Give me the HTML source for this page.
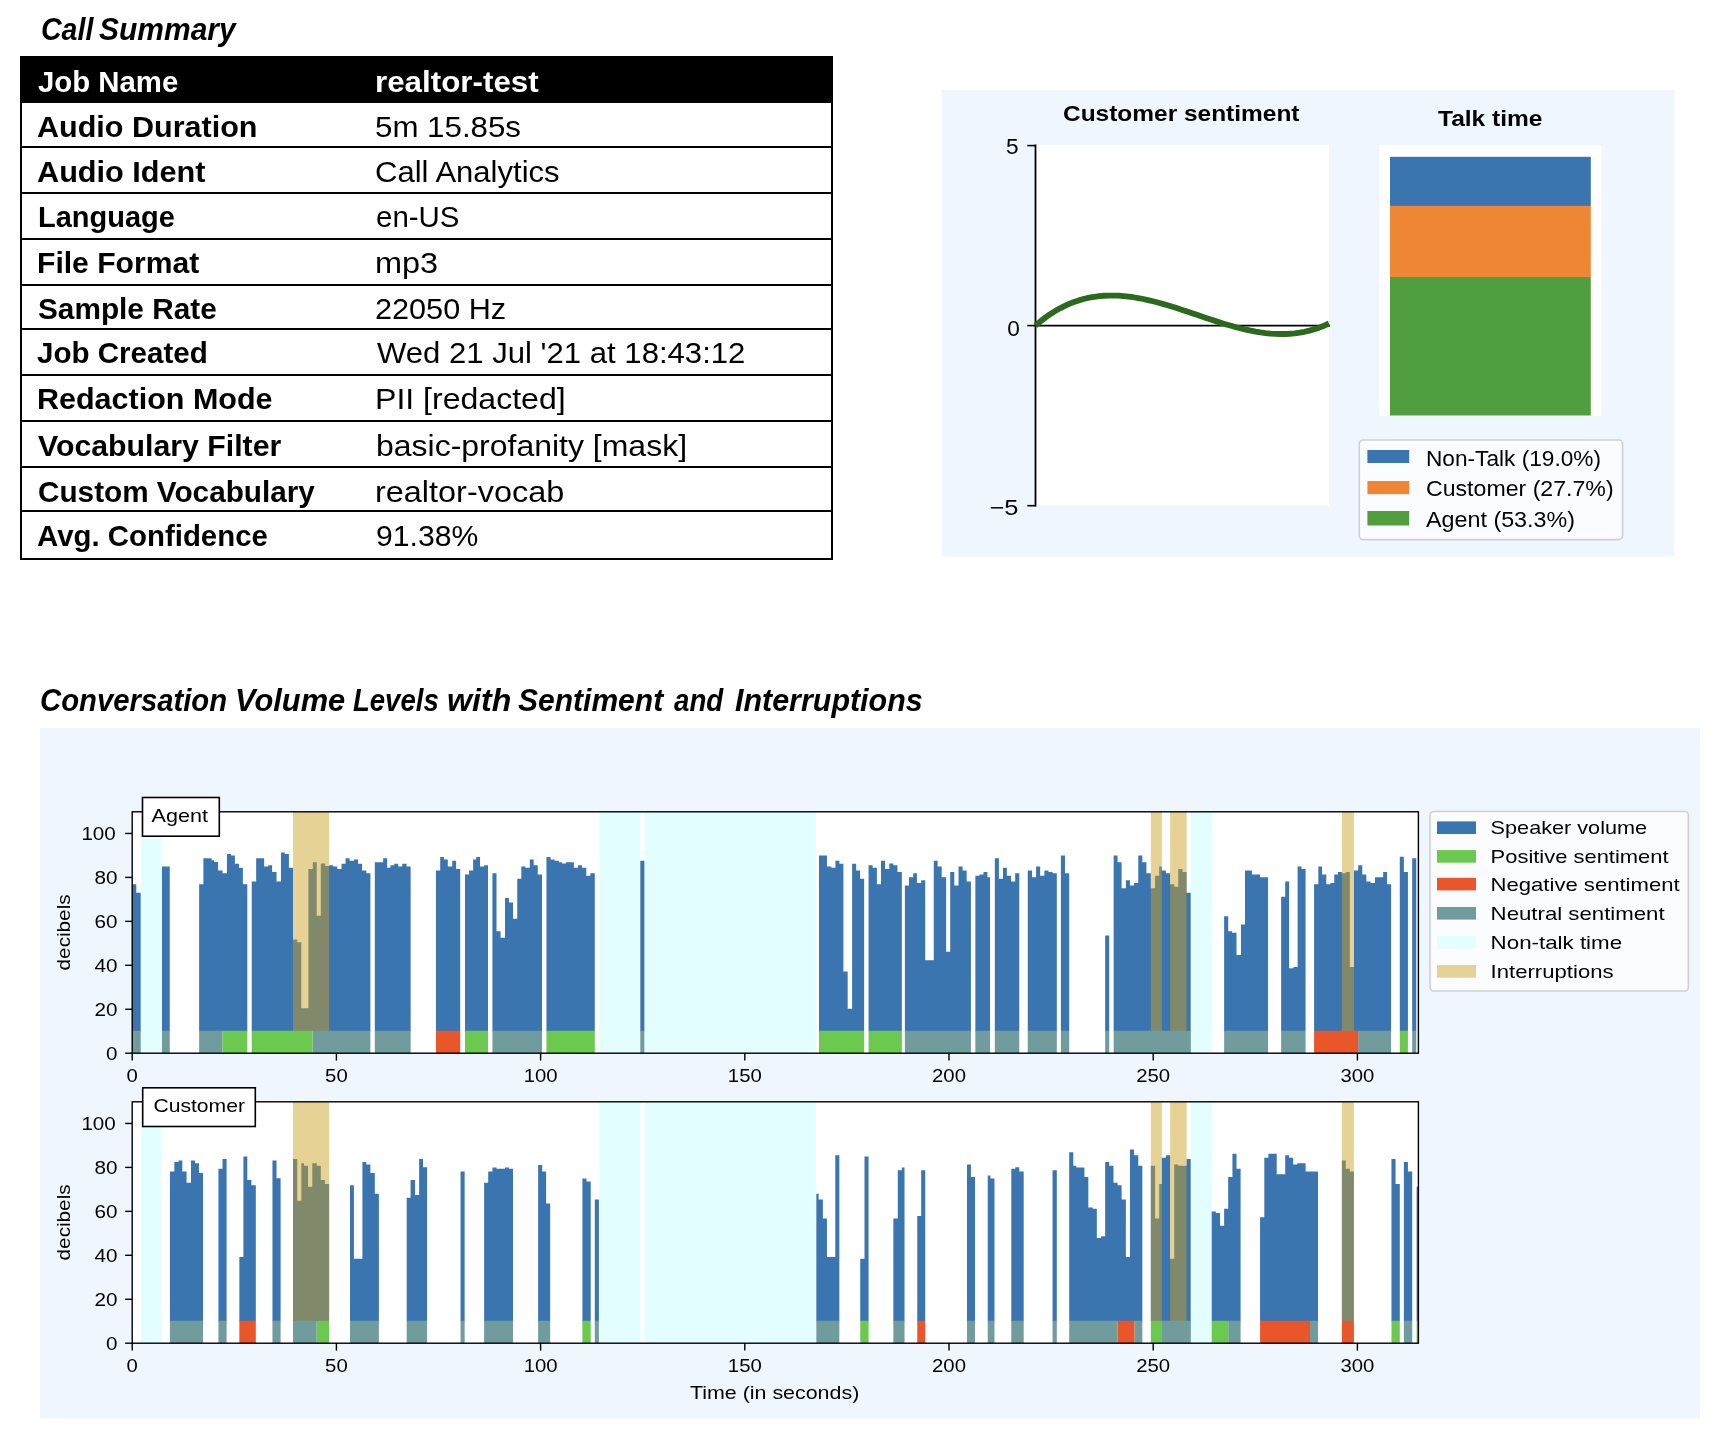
<!DOCTYPE html>
<html><head><meta charset="utf-8"><title>Call Summary</title>
<style>
html,body{margin:0;padding:0;background:#fff}
body{width:1716px;height:1440px;position:relative;overflow:hidden;font-family:"Liberation Sans",sans-serif;color:#000}
.abs{position:absolute}
h2.hd{margin:0;padding:0;font-size:32px;line-height:0}
.hw{position:absolute;font-style:italic;font-weight:bold;font-size:32px;line-height:32px;white-space:nowrap;transform-origin:0 0}
.tbl{position:absolute;left:20px;top:56px;width:813px;height:504px;box-sizing:border-box;border-left:2px solid #000;border-right:2px solid #000;border-bottom:2.5px solid #000}
.tbl>*{margin-left:-2px}
.hdrbg{position:absolute;left:0;top:0;width:813px;height:47.2px;background:#000}
.hl{position:absolute;left:0;width:813px;height:2px;background:#000}
.tbl span{position:absolute;font-size:30px;line-height:30px;white-space:nowrap;transform-origin:0 0}
.c1{font-weight:bold}
.c2.w{font-weight:bold}
.w{color:#fff}
svg,.tbl,h2.hd{will-change:transform}
</style></head><body>
<h2 class="hd">
<span class="hw" style="left:40.63px;top:12.6px;transform:scaleX(0.8923)">Call</span>
<span class="hw" style="left:98.79px;top:12.6px;transform:scaleX(0.9375)">Summary</span>
</h2>
<h2 class="hd">
<span class="hw" style="left:40.01px;top:684.2px;transform:scaleX(0.9152)">Conversation</span>
<span class="hw" style="left:234.87px;top:684.2px;transform:scaleX(0.9639)">Volume</span>
<span class="hw" style="left:353.05px;top:684.2px;transform:scaleX(0.8602)">Levels</span>
<span class="hw" style="left:446.68px;top:684.2px;transform:scaleX(1.0051)">with</span>
<span class="hw" style="left:518.19px;top:684.2px;transform:scaleX(0.9383)">Sentiment</span>
<span class="hw" style="left:674px;top:684.2px;transform:scaleX(0.8654)">and</span>
<span class="hw" style="left:734.77px;top:684.2px;transform:scaleX(0.9511)">Interruptions</span>
</h2>
<div class="tbl">
<div class="hdrbg"></div>
<div class="hl" style="top:89.6px"></div>
<div class="hl" style="top:136px"></div>
<div class="hl" style="top:181.8px"></div>
<div class="hl" style="top:228px"></div>
<div class="hl" style="top:272.1px"></div>
<div class="hl" style="top:317.9px"></div>
<div class="hl" style="top:364.1px"></div>
<div class="hl" style="top:410.1px"></div>
<div class="hl" style="top:454.1px"></div>
<span class="c1 w" id="t0_0" style="left:17.93px;top:10.5px;transform:scaleX(0.9781)">Job Name</span>
<span class="c2 w" id="t0_1" style="left:355.42px;top:10.5px;transform:scaleX(1.0444)">realtor-test</span>
<span class="c1" id="t1_0" style="left:17.49px;top:56.1px;transform:scaleX(1.0177)">Audio Duration</span>
<span class="c2" id="t1_1" style="left:354.83px;top:56.1px;transform:scaleX(1.0421)">5m 15.85s</span>
<span class="c1" id="t2_0" style="left:17.49px;top:100.5px;transform:scaleX(1.0214)">Audio Ident</span>
<span class="c2" id="t2_1" style="left:354.84px;top:100.5px;transform:scaleX(1.0347)">Call Analytics</span>
<span class="c1" id="t3_0" style="left:17.56px;top:145.9px;transform:scaleX(0.9655)">Language</span>
<span class="c2" id="t3_1" style="left:355.93px;top:145.9px;transform:scaleX(0.9818)">en-US</span>
<span class="c1" id="t4_0" style="left:17.48px;top:192.35px;transform:scaleX(1.0031)">File Format</span>
<span class="c2" id="t4_1" style="left:355.33px;top:192.35px;transform:scaleX(1.0819)">mp3</span>
<span class="c1" id="t5_0" style="left:17.91px;top:238.35px;transform:scaleX(0.9926)">Sample Rate</span>
<span class="c2" id="t5_1" style="left:355.46px;top:238.35px;transform:scaleX(1.0208)">22050 Hz</span>
<span class="c1" id="t6_0" style="left:16.51px;top:282.35px;transform:scaleX(0.9853)">Job Created</span>
<span class="c2" id="t6_1" style="left:357.08px;top:282.35px;transform:scaleX(1.0364)">Wed 21 Jul '21 at 18:43:12</span>
<span class="c1" id="t7_0" style="left:17.47px;top:328.2px;transform:scaleX(1.0166)">Redaction Mode</span>
<span class="c2" id="t7_1" style="left:355.36px;top:328.2px;transform:scaleX(1.0683)">PII [redacted]</span>
<span class="c1" id="t8_0" style="left:18.49px;top:374.5px;transform:scaleX(1.0088)">Vocabulary Filter</span>
<span class="c2" id="t8_1" style="left:355.81px;top:374.5px;transform:scaleX(1.0660)">basic-profanity [mask]</span>
<span class="c1" id="t9_0" style="left:17.91px;top:420.5px;transform:scaleX(0.9904)">Custom Vocabulary</span>
<span class="c2" id="t9_1" style="left:355.34px;top:420.5px;transform:scaleX(1.0807)">realtor-vocab</span>
<span class="c1" id="t10_0" style="left:16.51px;top:464.5px;transform:scaleX(0.9799)">Avg. Confidence</span>
<span class="c2" id="t10_1" style="left:355.9px;top:464.5px;transform:scaleX(1.0052)">91.38%</span>
</div>
<svg class="abs" style="left:0;top:0" width="1716" height="600" viewBox="0 0 1716 600">
<style>.t{font-family:"Liberation Sans",sans-serif;font-size:21.4px;fill:#000}.tb{font-family:"Liberation Sans",sans-serif;font-size:21.8px;font-weight:bold;fill:#000}</style>
<rect x="942" y="90" width="732" height="466.5" fill="#f0f6fe"/>
<rect x="1035.5" y="145" width="293.5" height="360.5" fill="#fff"/>
<path d="M1035.5 144.6V506.4" stroke="#000" stroke-width="1.8"/>
<path d="M1027.3 145.6H1035.5" stroke="#000" stroke-width="1.6"/>
<text x="1018.6" y="153.9" text-anchor="end" class="t" textLength="12.6" lengthAdjust="spacingAndGlyphs">5</text>
<path d="M1027.3 325.6H1035.5" stroke="#000" stroke-width="1.6"/>
<text x="1019.9" y="335.5" text-anchor="end" class="t" textLength="12.6" lengthAdjust="spacingAndGlyphs">0</text>
<path d="M1027.3 505.7H1035.5" stroke="#000" stroke-width="1.6"/>
<text x="1018.4" y="515.3" text-anchor="end" class="t" textLength="29" lengthAdjust="spacingAndGlyphs">−5</text>
<path d="M1035.5 325.6H1330" stroke="#000" stroke-width="1.6"/>
<path d="M1035.5 325.5 L1040.39 321.38 L1045.28 317.61 L1050.17 314.19 L1055.07 311.09 L1059.96 308.3 L1064.85 305.83 L1069.74 303.65 L1074.63 301.76 L1079.53 300.13 L1084.42 298.78 L1089.31 297.67 L1094.2 296.81 L1099.09 296.17 L1103.98 295.75 L1108.88 295.55 L1113.77 295.53 L1118.66 295.71 L1123.55 296.06 L1128.44 296.57 L1133.33 297.24 L1138.22 298.05 L1143.12 298.99 L1148.01 300.05 L1152.9 301.22 L1157.79 302.49 L1162.68 303.84 L1167.58 305.27 L1172.47 306.77 L1177.36 308.32 L1182.25 309.92 L1187.14 311.54 L1192.03 313.19 L1196.92 314.85 L1201.82 316.51 L1206.71 318.15 L1211.6 319.78 L1216.49 321.37 L1221.38 322.92 L1226.28 324.41 L1231.17 325.83 L1236.06 327.18 L1240.95 328.44 L1245.84 329.6 L1250.73 330.65 L1255.62 331.58 L1260.52 332.37 L1265.41 333.03 L1270.3 333.53 L1275.19 333.86 L1280.08 334.02 L1284.97 333.99 L1289.87 333.76 L1294.76 333.33 L1299.65 332.67 L1304.54 331.78 L1309.43 330.65 L1314.33 329.27 L1319.22 327.63 L1324.11 325.71 L1329 323.5" fill="none" stroke="#2b6a1c" stroke-width="5.8" stroke-linejoin="round"/>
<text x="1063" y="121.3" class="tb" textLength="236.5" lengthAdjust="spacingAndGlyphs">Customer sentiment</text>
<rect x="1379.5" y="145" width="221.8" height="270.5" fill="#fff"/>
<rect x="1390" y="156.8" width="200.8" height="49.2" fill="#3b75af"/>
<rect x="1390" y="205.8" width="200.8" height="71.4" fill="#ef8636"/>
<rect x="1390" y="277" width="200.8" height="138.5" fill="#519e3e"/>
<text x="1438" y="125.8" class="tb" textLength="104.5" lengthAdjust="spacingAndGlyphs">Talk time</text>
<rect x="1359.3" y="440" width="263.3" height="99.6" rx="4" fill="#fbfcff" stroke="#d0d0d0" stroke-width="1.6"/>
<rect x="1367.4" y="450" width="41.8" height="13" fill="#3b75af"/>
<text x="1426" y="465.6" class="t" textLength="175" lengthAdjust="spacingAndGlyphs">Non-Talk (19.0%)</text>
<rect x="1367.4" y="481" width="41.8" height="13.2" fill="#ef8636"/>
<text x="1426" y="496.2" class="t" textLength="187.6" lengthAdjust="spacingAndGlyphs">Customer (27.7%)</text>
<rect x="1367.4" y="511" width="41.8" height="14.5" fill="#519e3e"/>
<text x="1426" y="526.5" class="t" textLength="149" lengthAdjust="spacingAndGlyphs">Agent (53.3%)</text>
</svg>
<svg class="abs" style="left:0;top:0" width="1716" height="1440" viewBox="0 0 1716 1440">
<style>.u{font-family:"Liberation Sans",sans-serif;font-size:19px;fill:#000}</style>
<rect x="40" y="728" width="1660" height="690.5" fill="#f0f6fe"/>
<rect x="132.2" y="811.8" width="1286.2" height="241.2" fill="#fff"/>
<rect x="141" y="811.8" width="20.4" height="241.2" fill="#e3feff"/>
<rect x="599.23" y="811.8" width="41.08" height="241.2" fill="#e3feff"/>
<rect x="644.74" y="811.8" width="171.06" height="241.2" fill="#e3feff"/>
<rect x="1190.69" y="811.8" width="21.07" height="241.2" fill="#e3feff"/>
<path fill="#3b75af" d="M132.2 1031.29H136.27V884.34H132.2ZM136.27 1031.29H140.7V892.66H136.27ZM161.95 1031.29H169.74V866.45H161.95ZM199.14 1031.29H203.39V884.34H199.14ZM203.39 1031.29H211.53V858.13H203.39ZM211.53 1031.29H214.01V860.25H211.53ZM214.01 1031.29H218.09V862.02H214.01ZM218.09 1031.29H222.51V870.52H218.09ZM222.51 1031.29H226.94V873.18H222.51ZM226.94 1031.29H231.01V854.05H226.94ZM231.01 1031.29H234.91V855.47H231.01ZM234.91 1031.29H238.98V863.79H234.91ZM238.98 1031.29H242.88V867.87H238.98ZM242.88 1031.29H247.31V884.34H242.88ZM251.73 1031.29H256.16V881.5H251.73ZM256.16 1031.29H264.13V858.13H256.16ZM264.13 1031.29H268.2V866.45H264.13ZM268.2 1031.29H272.1V865.21H268.2ZM272.1 1031.29H276.53V871.94H272.1ZM276.53 1031.29H280.95V881.5H276.53ZM280.95 1031.29H284.85V852.46H280.95ZM284.85 1031.29H288.92V854.05H284.85ZM288.92 1031.29H293V867.87H288.92ZM293 1031.29H297.25V939.59H293ZM297.25 1031.29H301.32V942.24H297.25ZM301.32 1031.29H308.4V1008.3H301.32ZM308.4 1031.29H312.83V869.11H308.4ZM312.83 1031.29H316.73V862.2H312.83ZM316.73 1031.29H320.8V915.68H316.73ZM320.8 1031.29H325.23V863.44H320.8ZM325.23 1031.29H329.12V866.1H325.23ZM329.12 1031.29H333.2V865.21H329.12ZM333.2 1031.29H337.27V866.45H333.2ZM337.27 1031.29H341.52V869.11H337.27ZM341.52 1031.29H345.59V863.79H341.52ZM345.59 1031.29H349.66V858.13H345.59ZM349.66 1031.29H353.91V860.78H349.66ZM353.91 1031.29H357.99V859.54H353.91ZM357.99 1031.29H362.06V863.79H357.99ZM362.06 1031.29H366.31V870.52H362.06ZM366.31 1031.29H370.38V873.18H366.31ZM374.81 1031.29H383.13V862.2H374.81ZM383.13 1031.29H387.21V858.13H383.13ZM387.21 1031.29H390.4V867.87H387.21ZM390.4 1031.29H394.29V865.21H390.4ZM394.29 1031.29H398.19V863.79H394.29ZM398.19 1031.29H402.26V866.45H398.19ZM402.26 1031.29H406.33V863.79H402.26ZM406.33 1031.29H410.58V866.45H406.33ZM400 1031.29H402.66V866.45H400ZM402.66 1031.29H406.55V863.79H402.66ZM406.55 1031.29H410.63V866.45H406.55ZM435.95 1031.29H440.2V870.52H435.95ZM440.2 1031.29H443.92V856.89H440.2ZM443.92 1031.29H447.81V859.54H443.92ZM447.81 1031.29H452.24V866.45H447.81ZM452.24 1031.29H456.14V860.78H452.24ZM456.14 1031.29H460.21V869.11H456.14ZM464.99 1031.29H469.07V874.6H464.99ZM469.07 1031.29H473.14V870.52H469.07ZM473.14 1031.29H476.15V859.54H473.14ZM476.15 1031.29H480.04V856.89H476.15ZM480.04 1031.29H484.12V866.45H480.04ZM484.12 1031.29H488.01V865.21H484.12ZM492.44 1031.29H496.51V873.18H492.44ZM496.51 1031.29H500.59V931.27H496.51ZM500.59 1031.29H505.01V937.82H500.59ZM505.01 1031.29H508.91V897.97H505.01ZM508.91 1031.29H512.98V902.4H508.91ZM512.98 1031.29H517.23V918.69H512.98ZM517.23 1031.29H521.31V878.85H517.23ZM521.31 1031.29H525.38V866.45H521.31ZM525.38 1031.29H529.81V867.87H525.38ZM529.81 1031.29H533.7V859.54H529.81ZM533.7 1031.29H537.78V865.21H533.7ZM537.78 1031.29H542.03V874.6H537.78ZM546.45 1031.29H550.53V856.89H546.45ZM550.53 1031.29H554.6V859.54H550.53ZM554.6 1031.29H558.85V860.78H554.6ZM558.85 1031.29H562.04V862.2H558.85ZM562.04 1031.29H565.93V863.44H562.04ZM565.93 1031.29H573.9V862.2H565.93ZM573.9 1031.29H577.98V867.87H573.9ZM577.98 1031.29H582.05V865.21H577.98ZM582.05 1031.29H586.3V867.87H582.05ZM586.3 1031.29H590.37V875.84H586.3ZM590.37 1031.29H594.8V873.18H590.37ZM640.31 1031.29H644.38V860.78H640.31ZM818.98 1031.29H826.95V855.47H818.98ZM826.95 1031.29H831.38V866.45H826.95ZM831.38 1031.29H835.45V867.87H831.38ZM835.45 1031.29H839.35V860.78H835.45ZM839.35 1031.29H843.42V863.79H839.35ZM843.42 1031.29H847.67V971.46H843.42ZM847.67 1031.29H852.1V1008.65H847.67ZM852.1 1031.29H856.17V863.79H852.1ZM856.17 1031.29H860.07V870.52H856.17ZM860.07 1031.29H864.14V878.85H860.07ZM868.57 1031.29H872.64V865.21H868.57ZM872.64 1031.29H876.89V867.87H872.64ZM876.89 1031.29H880.97V884.34H876.89ZM880.97 1031.29H885.04V860.78H880.97ZM885.04 1031.29H889.29V869.11H885.04ZM889.29 1031.29H893.36V863.44H889.29ZM893.36 1031.29H897.44V865.21H893.36ZM897.44 1031.29H901.86V871.94H897.44ZM904.87 1031.29H908.95V885.58H904.87ZM908.95 1031.29H913.2V877.25H908.95ZM913.2 1031.29H916.92V873.18H913.2ZM916.92 1031.29H921.17V882.92H916.92ZM921.17 1031.29H925.24V880.26H921.17ZM925.24 1031.29H933.74V960.31H925.24ZM933.74 1031.29H937.63V860.78H933.74ZM937.63 1031.29H941.71V866.45H937.63ZM941.71 1031.29H945.96V877.25H941.71ZM945.96 1031.29H950.39V951.63H945.96ZM950.39 1031.29H954.1V871.94H950.39ZM954.1 1031.29H958V885.58H954.1ZM944 1031.29H946.13V877.25H944ZM946.13 1031.29H950.2V951.63H946.13ZM950.2 1031.29H954.27V871.94H950.2ZM954.27 1031.29H958.52V885.58H954.27ZM958.52 1031.29H962.59V866.45H958.52ZM962.59 1031.29H966.67V870.52H962.59ZM966.67 1031.29H970.92V881.5H966.67ZM975.34 1031.29H979.42V875.84H975.34ZM979.42 1031.29H983.49V874.6H979.42ZM983.49 1031.29H987.39V871.94H983.49ZM987.39 1031.29H990.04V877.25H987.39ZM994.82 1031.29H998.9V858.13H994.82ZM998.9 1031.29H1002.97V878.85H998.9ZM1002.97 1031.29H1006.87V867.87H1002.97ZM1006.87 1031.29H1010.94V875.84H1006.87ZM1010.94 1031.29H1015.19V881.5H1010.94ZM1015.19 1031.29H1019.26V873.18H1015.19ZM1027.76 1031.29H1032.01V870.52H1027.76ZM1032.01 1031.29H1036.09V877.25H1032.01ZM1036.09 1031.29H1040.16V866.45H1036.09ZM1040.16 1031.29H1044.41V875.84H1040.16ZM1044.41 1031.29H1048.48V870.52H1044.41ZM1048.48 1031.29H1052.56V871.94H1048.48ZM1052.56 1031.29H1056.81V873.18H1052.56ZM1060.88 1031.29H1064.95V855.47H1060.88ZM1064.95 1031.29H1069.2V873.18H1064.95ZM1105.15 1031.29H1109.22V935.52H1105.15ZM1113.65 1031.29H1117.55V855.47H1113.65ZM1117.55 1031.29H1121.62V862.2H1117.55ZM1121.62 1031.29H1125.87V888.23H1121.62ZM1125.87 1031.29H1129.94V880.26H1125.87ZM1129.94 1031.29H1134.02V885.58H1129.94ZM1134.02 1031.29H1138.27V882.92H1134.02ZM1138.27 1031.29H1142.34V855.47H1138.27ZM1142.34 1031.29H1146.41V862.2H1142.34ZM1146.41 1031.29H1150.84V873.18H1146.41ZM1150.84 1031.29H1155.09V888.23H1150.84ZM1155.09 1031.29H1159.16V875.84H1155.09ZM1159.16 1031.29H1161.82V866.45H1159.16ZM1161.82 1031.29H1165.89V870.52H1161.82ZM1165.89 1031.29H1170.14V873.18H1165.89ZM1170.14 1031.29H1174.22V884.34H1170.14ZM1174.22 1031.29H1178.29V886.82H1174.22ZM1178.29 1031.29H1182.54V869.11H1178.29ZM1182.54 1031.29H1186.61V871.94H1182.54ZM1186.61 1031.29H1190.69V892.66H1186.61ZM1224.33 1031.29H1228.23V916.21H1224.33ZM1228.23 1031.29H1230V931.27H1228.23ZM1224.12 1031.29H1228.01V916.21H1224.12ZM1228.01 1031.29H1232.09V931.27H1228.01ZM1232.09 1031.29H1236.51V932.86H1232.09ZM1236.51 1031.29H1240.94V955H1236.51ZM1240.94 1031.29H1245.01V924.54H1240.94ZM1245.01 1031.29H1251.92V870.52H1245.01ZM1251.92 1031.29H1260.07V874.6H1251.92ZM1260.07 1031.29H1268.04V877.25H1260.07ZM1281.14 1031.29H1285.21V896.73H1281.14ZM1285.21 1031.29H1289.11V881.5H1285.21ZM1289.11 1031.29H1293.54V968.28H1289.11ZM1293.54 1031.29H1297.61V967.04H1293.54ZM1297.61 1031.29H1301.51V866.45H1297.61ZM1301.51 1031.29H1305.58V869.11H1301.51ZM1314.08 1031.29H1318.33V884.34H1314.08ZM1318.33 1031.29H1322.05V866.45H1318.33ZM1322.05 1031.29H1326.3V874.6H1322.05ZM1326.3 1031.29H1330.37V884.34H1326.3ZM1330.37 1031.29H1334.27V882.92H1330.37ZM1334.27 1031.29H1337.99V874.6H1334.27ZM1337.99 1031.29H1341.88V871.94H1337.99ZM1341.88 1031.29H1345.78V873.18H1341.88ZM1345.78 1031.29H1349.85V871.94H1345.78ZM1349.85 1031.29H1353.92V967.04H1349.85ZM1353.92 1031.29H1358.17V870.52H1353.92ZM1358.17 1031.29H1362.25V865.21H1358.17ZM1362.25 1031.29H1366.32V874.6H1362.25ZM1366.32 1031.29H1370.57V881.5H1366.32ZM1370.57 1031.29H1375V882.92H1370.57ZM1375 1031.29H1383.14V877.25H1375ZM1383.14 1031.29H1387.04V871.94H1383.14ZM1387.04 1031.29H1391.11V884.34H1387.04ZM1399.79 1031.29H1403.86V856.71H1399.79ZM1403.86 1031.29H1407.94V871.94H1403.86ZM1412.19 1031.29H1416.26V858.13H1412.19Z"/>
<path fill="#709c9e" d="M132.2 1052.93H140.7V1030.79H132.2ZM161.95 1052.93H169.74V1030.79H161.95ZM199.14 1052.93H222.51V1030.79H199.14ZM312.48 1052.93H370.38V1030.79H312.48ZM374.81 1052.93H410.58V1030.79H374.81ZM400 1052.93H410.63V1030.79H400ZM492.44 1052.93H542.03V1030.79H492.44ZM640.31 1052.93H644.38V1030.79H640.31ZM904.87 1052.93H958V1030.79H904.87ZM944 1052.93H970.92V1030.79H944ZM975.34 1052.93H990.04V1030.79H975.34ZM994.82 1052.93H1019.26V1030.79H994.82ZM1027.76 1052.93H1056.81V1030.79H1027.76ZM1060.88 1052.93H1069.2V1030.79H1060.88ZM1105.15 1052.93H1109.22V1030.79H1105.15ZM1113.65 1052.93H1190.69V1030.79H1113.65ZM1224.33 1052.93H1230V1030.79H1224.33ZM1140 1052.93H1190.82V1030.79H1140ZM1224.12 1052.93H1268.04V1030.79H1224.12ZM1281.14 1052.93H1305.58V1030.79H1281.14ZM1358.17 1052.93H1391.11V1030.79H1358.17ZM1412.19 1052.93H1416.26V1030.79H1412.19Z"/>
<path fill="#6cc94f" d="M222.51 1052.93H247.31V1030.79H222.51ZM251.73 1052.93H312.48V1030.79H251.73ZM464.99 1052.93H488.01V1030.79H464.99ZM546.45 1052.93H594.8V1030.79H546.45ZM818.98 1052.93H864.14V1030.79H818.98ZM868.57 1052.93H901.86V1030.79H868.57ZM1399.79 1052.93H1407.94V1030.79H1399.79Z"/>
<path fill="#e8562a" d="M435.95 1052.93H460.21V1030.79H435.95ZM1314.08 1052.93H1358.17V1030.79H1314.08Z"/>
<rect x="293" y="811.8" width="36.13" height="219.06" fill="#cda122" fill-opacity="0.48"/>
<rect x="1150.84" y="811.8" width="10.98" height="219.06" fill="#cda122" fill-opacity="0.48"/>
<rect x="1170.14" y="811.8" width="16.47" height="219.06" fill="#cda122" fill-opacity="0.48"/>
<rect x="1341.88" y="811.8" width="12.04" height="219.06" fill="#cda122" fill-opacity="0.48"/>
<rect x="132.2" y="811.8" width="1286.2" height="241.4" fill="none" stroke="#000" stroke-width="1.4"/>
<path d="M125.2 1053.2H132.2" stroke="#000" stroke-width="1.4"/>
<text x="117.4" y="1059.6" text-anchor="end" class="u" textLength="11.5" lengthAdjust="spacingAndGlyphs">0</text>
<path d="M125.2 1009.25H132.2" stroke="#000" stroke-width="1.4"/>
<text x="117.4" y="1015.65" text-anchor="end" class="u" textLength="23" lengthAdjust="spacingAndGlyphs">20</text>
<path d="M125.2 965.3H132.2" stroke="#000" stroke-width="1.4"/>
<text x="117.4" y="971.7" text-anchor="end" class="u" textLength="23" lengthAdjust="spacingAndGlyphs">40</text>
<path d="M125.2 921.35H132.2" stroke="#000" stroke-width="1.4"/>
<text x="117.4" y="927.75" text-anchor="end" class="u" textLength="23" lengthAdjust="spacingAndGlyphs">60</text>
<path d="M125.2 877.4H132.2" stroke="#000" stroke-width="1.4"/>
<text x="117.4" y="883.8" text-anchor="end" class="u" textLength="23" lengthAdjust="spacingAndGlyphs">80</text>
<path d="M125.2 833.45H132.2" stroke="#000" stroke-width="1.4"/>
<text x="115.8" y="839.85" text-anchor="end" class="u" textLength="34.4" lengthAdjust="spacingAndGlyphs">100</text>
<path d="M132.2 1053V1060.6" stroke="#000" stroke-width="1.4"/>
<text x="132.2" y="1081.6" text-anchor="middle" class="u" textLength="11.3" lengthAdjust="spacingAndGlyphs">0</text>
<path d="M336.4 1053V1060.6" stroke="#000" stroke-width="1.4"/>
<text x="336.4" y="1081.6" text-anchor="middle" class="u" textLength="22.6" lengthAdjust="spacingAndGlyphs">50</text>
<path d="M540.6 1053V1060.6" stroke="#000" stroke-width="1.4"/>
<text x="540.6" y="1081.6" text-anchor="middle" class="u" textLength="33.9" lengthAdjust="spacingAndGlyphs">100</text>
<path d="M744.8 1053V1060.6" stroke="#000" stroke-width="1.4"/>
<text x="744.8" y="1081.6" text-anchor="middle" class="u" textLength="33.9" lengthAdjust="spacingAndGlyphs">150</text>
<path d="M949 1053V1060.6" stroke="#000" stroke-width="1.4"/>
<text x="949" y="1081.6" text-anchor="middle" class="u" textLength="33.9" lengthAdjust="spacingAndGlyphs">200</text>
<path d="M1153.2 1053V1060.6" stroke="#000" stroke-width="1.4"/>
<text x="1153.2" y="1081.6" text-anchor="middle" class="u" textLength="33.9" lengthAdjust="spacingAndGlyphs">250</text>
<path d="M1357.4 1053V1060.6" stroke="#000" stroke-width="1.4"/>
<text x="1357.4" y="1081.6" text-anchor="middle" class="u" textLength="33.9" lengthAdjust="spacingAndGlyphs">300</text>
<text transform="translate(69.5 932.4) rotate(-90)" text-anchor="middle" class="u" textLength="76" lengthAdjust="spacingAndGlyphs">decibels</text>
<rect x="142.5" y="797.5" width="76.8" height="38.7" fill="#fff" stroke="#000" stroke-width="1.6"/>
<text x="151.6" y="822" class="u" textLength="56.3" lengthAdjust="spacingAndGlyphs">Agent</text>
<rect x="132.2" y="1101.8" width="1286.2" height="241.2" fill="#fff"/>
<rect x="141" y="1101.8" width="20.4" height="241.2" fill="#e3feff"/>
<rect x="599.23" y="1101.8" width="41.08" height="241.2" fill="#e3feff"/>
<rect x="644.74" y="1101.8" width="171.06" height="241.2" fill="#e3feff"/>
<rect x="1190.69" y="1101.8" width="21.07" height="241.2" fill="#e3feff"/>
<path fill="#3b75af" d="M169.92 1321.29H174.35V1171.5H169.92ZM174.35 1321.29H178.6V1161.94H174.35ZM178.6 1321.29H182.31V1160.52H178.6ZM182.31 1321.29H186.56V1171.5H182.31ZM186.56 1321.29H190.99V1182.66H186.56ZM190.99 1321.29H195.07V1160.52H190.99ZM195.07 1321.29H198.96V1163.18H195.07ZM198.96 1321.29H203.03V1172.92H198.96ZM218.44 1321.29H222.51V1168.85H218.44ZM222.51 1321.29H226.59V1159.11H222.51ZM239.34 1321.29H243.41V1257.04H239.34ZM243.41 1321.29H247.31V1156.45H243.41ZM247.31 1321.29H251.38V1180H247.31ZM251.38 1321.29H255.81V1185.32H251.38ZM272.45 1321.29H276.53V1160.52H272.45ZM276.53 1321.29H280.6V1178.23H276.53ZM293 1321.29H297.25V1159.11H293ZM297.25 1321.29H301.32V1200.72H297.25ZM301.32 1321.29H303.98V1163.18H301.32ZM303.98 1321.29H308.05V1165.84H303.98ZM308.05 1321.29H312.3V1186.73H308.05ZM312.3 1321.29H316.73V1163.18H312.3ZM316.73 1321.29H320.8V1165.84H316.73ZM320.8 1321.29H324.87V1180H320.8ZM324.87 1321.29H329.12V1184.08H324.87ZM350.02 1321.29H353.91V1185.32H350.02ZM353.91 1321.29H362.41V1258.81H353.91ZM362.41 1321.29H366.31V1161.94H362.41ZM366.31 1321.29H370.38V1164.6H366.31ZM370.38 1321.29H374.81V1172.92H370.38ZM374.81 1321.29H378.88V1193.82H374.81ZM406.69 1321.29H410.58V1197.71H406.69ZM410.58 1321.29H412V1180H410.58ZM406.73 1321.29H410.98V1197.71H406.73ZM410.98 1321.29H415.05V1180H410.98ZM415.05 1321.29H419.13V1195.06H415.05ZM419.13 1321.29H423.02V1159.11H419.13ZM423.02 1321.29H427.09V1167.25H423.02ZM460.56 1321.29H464.64V1171.5H460.56ZM484.12 1321.29H488.19V1182.66H484.12ZM488.19 1321.29H492.44V1171.5H488.19ZM492.44 1321.29H496.51V1167.61H492.44ZM496.51 1321.29H505.01V1168.85H496.51ZM505.01 1321.29H508.91V1167.61H505.01ZM508.91 1321.29H512.98V1168.85H508.91ZM538.13 1321.29H542.2V1164.95H538.13ZM542.2 1321.29H546.1V1171.5H542.2ZM546.1 1321.29H550.17V1203.38H546.1ZM582.4 1321.29H586.48V1178.59H582.4ZM586.48 1321.29H590.73V1181.42H586.48ZM594.8 1321.29H598.87V1199.48H594.8ZM816.33 1321.29H818.63V1193.82H816.33ZM818.63 1321.29H822.88V1199.48H818.63ZM822.88 1321.29H826.95V1218.61H822.88ZM826.95 1321.29H835.28V1257.04H826.95ZM835.28 1321.29H839.35V1155.21H835.28ZM860.25 1321.29H864.5V1258.81H860.25ZM864.5 1321.29H868.57V1156.45H864.5ZM893.36 1321.29H897.79V1218.61H893.36ZM897.79 1321.29H901.86V1170.26H897.79ZM901.86 1321.29H904.52V1167.61H901.86ZM917.27 1321.29H921.17V1215.95H917.27ZM921.17 1321.29H925.24V1170.26H921.17ZM967.02 1321.29H970.92V1164.6H967.02ZM970.92 1321.29H974.99V1176.99H970.92ZM987.74 1321.29H990.4V1175.58H987.74ZM990.4 1321.29H994.47V1178.59H990.4ZM1011.29 1321.29H1015.37V1168.85H1011.29ZM1015.37 1321.29H1019.26V1167.25H1015.37ZM1019.26 1321.29H1023.69V1171.5H1019.26ZM1052.56 1321.29H1056.81V1170.26H1052.56ZM1069.2 1321.29H1073.28V1152.2H1069.2ZM1073.28 1321.29H1076.29V1165.84H1073.28ZM1076.29 1321.29H1084.43V1167.61H1076.29ZM1084.43 1321.29H1088.33V1176.99H1084.43ZM1088.33 1321.29H1092.76V1207.45H1088.33ZM1092.76 1321.29H1096.83V1208.87H1092.76ZM1096.83 1321.29H1101.08V1237.91H1096.83ZM1101.08 1321.29H1105.15V1236.32H1101.08ZM1105.15 1321.29H1109.22V1161.94H1105.15ZM1109.22 1321.29H1113.47V1165.84H1109.22ZM1113.47 1321.29H1117.55V1182.66H1113.47ZM1117.55 1321.29H1121.62V1185.32H1117.55ZM1121.62 1321.29H1125.87V1199.48H1121.62ZM1125.87 1321.29H1129.94V1257.04H1125.87ZM1129.94 1321.29H1134.02V1149.54H1129.94ZM1134.02 1321.29H1138.27V1155.21H1134.02ZM1138.27 1321.29H1142.34V1165.84H1138.27ZM1150.84 1321.29H1155.09V1165.84H1150.84ZM1155.09 1321.29H1159.16V1218.61H1155.09ZM1159.16 1321.29H1161.82V1184.08H1159.16ZM1161.82 1321.29H1165.89V1157.87H1161.82ZM1165.89 1321.29H1170.14V1155.21H1165.89ZM1170.14 1321.29H1174.22V1258.81H1170.14ZM1174.22 1321.29H1178.29V1164.6H1174.22ZM1178.29 1321.29H1186.61V1165.84H1178.29ZM1186.61 1321.29H1190.69V1159.11H1186.61ZM1211.76 1321.29H1215.83V1211.53H1211.76ZM1215.83 1321.29H1219.91V1213.12H1215.83ZM1219.91 1321.29H1224.33V1225.69H1219.91ZM1224.33 1321.29H1228.23V1208.87H1224.33ZM1228.23 1321.29H1230V1176.99H1228.23ZM1211.72 1321.29H1215.79V1211.53H1211.72ZM1215.79 1321.29H1220.04V1213.12H1215.79ZM1220.04 1321.29H1224.12V1225.69H1220.04ZM1224.12 1321.29H1228.19V1208.87H1224.12ZM1228.19 1321.29H1232.44V1176.99H1228.19ZM1232.44 1321.29H1236.51V1153.79H1232.44ZM1236.51 1321.29H1240.59V1168.85H1236.51ZM1260.07 1321.29H1264.32V1217.19H1260.07ZM1264.32 1321.29H1268.39V1157.87H1264.32ZM1268.39 1321.29H1276.71V1153.79H1268.39ZM1276.71 1321.29H1285.21V1174.34H1276.71ZM1285.21 1321.29H1289.11V1155.21H1285.21ZM1289.11 1321.29H1293.18V1157.87H1289.11ZM1293.18 1321.29H1297.26V1164.6H1293.18ZM1297.26 1321.29H1305.58V1163.18H1297.26ZM1305.58 1321.29H1317.98V1171.5H1305.58ZM1341.88 1321.29H1345.78V1160.52H1341.88ZM1345.78 1321.29H1349.85V1168.85H1345.78ZM1349.85 1321.29H1353.92V1171.5H1349.85ZM1391.47 1321.29H1395.54V1159.11H1391.47ZM1395.54 1321.29H1399.79V1184.08H1395.54ZM1403.86 1321.29H1407.94V1161.94H1403.86ZM1407.94 1321.29H1412.19V1171.5H1407.94ZM1416.61 1321.29H1418.92V1186.73H1416.61Z"/>
<path fill="#709c9e" d="M169.92 1342.93H203.03V1320.79H169.92ZM218.44 1342.93H226.59V1320.79H218.44ZM272.45 1342.93H280.6V1320.79H272.45ZM293 1342.93H316.73V1320.79H293ZM350.02 1342.93H378.88V1320.79H350.02ZM406.69 1342.93H412V1320.79H406.69ZM406.73 1342.93H427.09V1320.79H406.73ZM460.56 1342.93H464.64V1320.79H460.56ZM484.12 1342.93H512.98V1320.79H484.12ZM538.13 1342.93H550.17V1320.79H538.13ZM594.8 1342.93H598.87V1320.79H594.8ZM816.33 1342.93H839.35V1320.79H816.33ZM893.36 1342.93H904.52V1320.79H893.36ZM967.02 1342.93H974.99V1320.79H967.02ZM987.74 1342.93H994.47V1320.79H987.74ZM1011.29 1342.93H1023.69V1320.79H1011.29ZM1052.56 1342.93H1056.81V1320.79H1052.56ZM1069.2 1342.93H1117.55V1320.79H1069.2ZM1134.37 1342.93H1142.34V1320.79H1134.37ZM1161.82 1342.93H1190.69V1320.79H1161.82ZM1228.23 1342.93H1230V1320.79H1228.23ZM1140 1342.93H1142.13V1320.79H1140ZM1162.14 1342.93H1190.82V1320.79H1162.14ZM1228.19 1342.93H1240.59V1320.79H1228.19ZM1310.01 1342.93H1317.98V1320.79H1310.01ZM1403.86 1342.93H1412.19V1320.79H1403.86Z"/>
<path fill="#6cc94f" d="M316.73 1342.93H329.12V1320.79H316.73ZM582.4 1342.93H590.73V1320.79H582.4ZM860.25 1342.93H868.57V1320.79H860.25ZM1150.84 1342.93H1161.82V1320.79H1150.84ZM1211.76 1342.93H1228.23V1320.79H1211.76ZM1150.98 1342.93H1162.14V1320.79H1150.98ZM1211.72 1342.93H1228.19V1320.79H1211.72ZM1391.47 1342.93H1399.79V1320.79H1391.47ZM1416.61 1342.93H1418.92V1320.79H1416.61Z"/>
<path fill="#e8562a" d="M239.34 1342.93H255.81V1320.79H239.34ZM917.27 1342.93H925.24V1320.79H917.27ZM1117.55 1342.93H1134.37V1320.79H1117.55ZM1260.07 1342.93H1310.01V1320.79H1260.07ZM1341.88 1342.93H1353.92V1320.79H1341.88Z"/>
<rect x="293" y="1101.8" width="36.13" height="219.06" fill="#cda122" fill-opacity="0.48"/>
<rect x="1150.84" y="1101.8" width="10.98" height="219.06" fill="#cda122" fill-opacity="0.48"/>
<rect x="1170.14" y="1101.8" width="16.47" height="219.06" fill="#cda122" fill-opacity="0.48"/>
<rect x="1341.88" y="1101.8" width="12.04" height="219.06" fill="#cda122" fill-opacity="0.48"/>
<rect x="132.2" y="1101.8" width="1286.2" height="241.4" fill="none" stroke="#000" stroke-width="1.4"/>
<path d="M125.2 1343.2H132.2" stroke="#000" stroke-width="1.4"/>
<text x="117.4" y="1349.6" text-anchor="end" class="u" textLength="11.5" lengthAdjust="spacingAndGlyphs">0</text>
<path d="M125.2 1299.25H132.2" stroke="#000" stroke-width="1.4"/>
<text x="117.4" y="1305.65" text-anchor="end" class="u" textLength="23" lengthAdjust="spacingAndGlyphs">20</text>
<path d="M125.2 1255.3H132.2" stroke="#000" stroke-width="1.4"/>
<text x="117.4" y="1261.7" text-anchor="end" class="u" textLength="23" lengthAdjust="spacingAndGlyphs">40</text>
<path d="M125.2 1211.35H132.2" stroke="#000" stroke-width="1.4"/>
<text x="117.4" y="1217.75" text-anchor="end" class="u" textLength="23" lengthAdjust="spacingAndGlyphs">60</text>
<path d="M125.2 1167.4H132.2" stroke="#000" stroke-width="1.4"/>
<text x="117.4" y="1173.8" text-anchor="end" class="u" textLength="23" lengthAdjust="spacingAndGlyphs">80</text>
<path d="M125.2 1123.45H132.2" stroke="#000" stroke-width="1.4"/>
<text x="115.8" y="1129.85" text-anchor="end" class="u" textLength="34.4" lengthAdjust="spacingAndGlyphs">100</text>
<path d="M132.2 1343V1350.6" stroke="#000" stroke-width="1.4"/>
<text x="132.2" y="1372" text-anchor="middle" class="u" textLength="11.3" lengthAdjust="spacingAndGlyphs">0</text>
<path d="M336.4 1343V1350.6" stroke="#000" stroke-width="1.4"/>
<text x="336.4" y="1372" text-anchor="middle" class="u" textLength="22.6" lengthAdjust="spacingAndGlyphs">50</text>
<path d="M540.6 1343V1350.6" stroke="#000" stroke-width="1.4"/>
<text x="540.6" y="1372" text-anchor="middle" class="u" textLength="33.9" lengthAdjust="spacingAndGlyphs">100</text>
<path d="M744.8 1343V1350.6" stroke="#000" stroke-width="1.4"/>
<text x="744.8" y="1372" text-anchor="middle" class="u" textLength="33.9" lengthAdjust="spacingAndGlyphs">150</text>
<path d="M949 1343V1350.6" stroke="#000" stroke-width="1.4"/>
<text x="949" y="1372" text-anchor="middle" class="u" textLength="33.9" lengthAdjust="spacingAndGlyphs">200</text>
<path d="M1153.2 1343V1350.6" stroke="#000" stroke-width="1.4"/>
<text x="1153.2" y="1372" text-anchor="middle" class="u" textLength="33.9" lengthAdjust="spacingAndGlyphs">250</text>
<path d="M1357.4 1343V1350.6" stroke="#000" stroke-width="1.4"/>
<text x="1357.4" y="1372" text-anchor="middle" class="u" textLength="33.9" lengthAdjust="spacingAndGlyphs">300</text>
<text transform="translate(69.5 1222.4) rotate(-90)" text-anchor="middle" class="u" textLength="76" lengthAdjust="spacingAndGlyphs">decibels</text>
<rect x="142.7" y="1087.8" width="112.6" height="38.7" fill="#fff" stroke="#000" stroke-width="1.6"/>
<text x="153.4" y="1112" class="u" textLength="91.6" lengthAdjust="spacingAndGlyphs">Customer</text>
<text x="774.6" y="1399.2" text-anchor="middle" class="u" textLength="169.4" lengthAdjust="spacingAndGlyphs">Time (in seconds)</text>
<rect x="1430" y="811.5" width="258.4" height="179.5" rx="4" fill="#fbfcff" stroke="#d0d0d0" stroke-width="1.6"/>
<rect x="1437" y="821.4" width="39" height="12.6" fill="#3b75af"/>
<text x="1490.6" y="834.3" class="u" textLength="156.5" lengthAdjust="spacingAndGlyphs">Speaker volume</text>
<rect x="1437" y="850.1" width="39" height="12.6" fill="#6cc94f"/>
<text x="1490.6" y="863" class="u" textLength="178" lengthAdjust="spacingAndGlyphs">Positive sentiment</text>
<rect x="1437" y="877.8" width="39" height="12.6" fill="#e8562a"/>
<text x="1490.6" y="890.7" class="u" textLength="189" lengthAdjust="spacingAndGlyphs">Negative sentiment</text>
<rect x="1437" y="907" width="39" height="12.6" fill="#709c9e"/>
<text x="1490.6" y="919.9" class="u" textLength="174" lengthAdjust="spacingAndGlyphs">Neutral sentiment</text>
<rect x="1437" y="936" width="39" height="12.6" fill="#e3feff"/>
<text x="1490.6" y="948.9" class="u" textLength="131.5" lengthAdjust="spacingAndGlyphs">Non-talk time</text>
<rect x="1437" y="965.1" width="39" height="12.6" fill="#e7d295"/>
<text x="1490.6" y="978" class="u" textLength="123" lengthAdjust="spacingAndGlyphs">Interruptions</text>
</svg>
</body></html>
